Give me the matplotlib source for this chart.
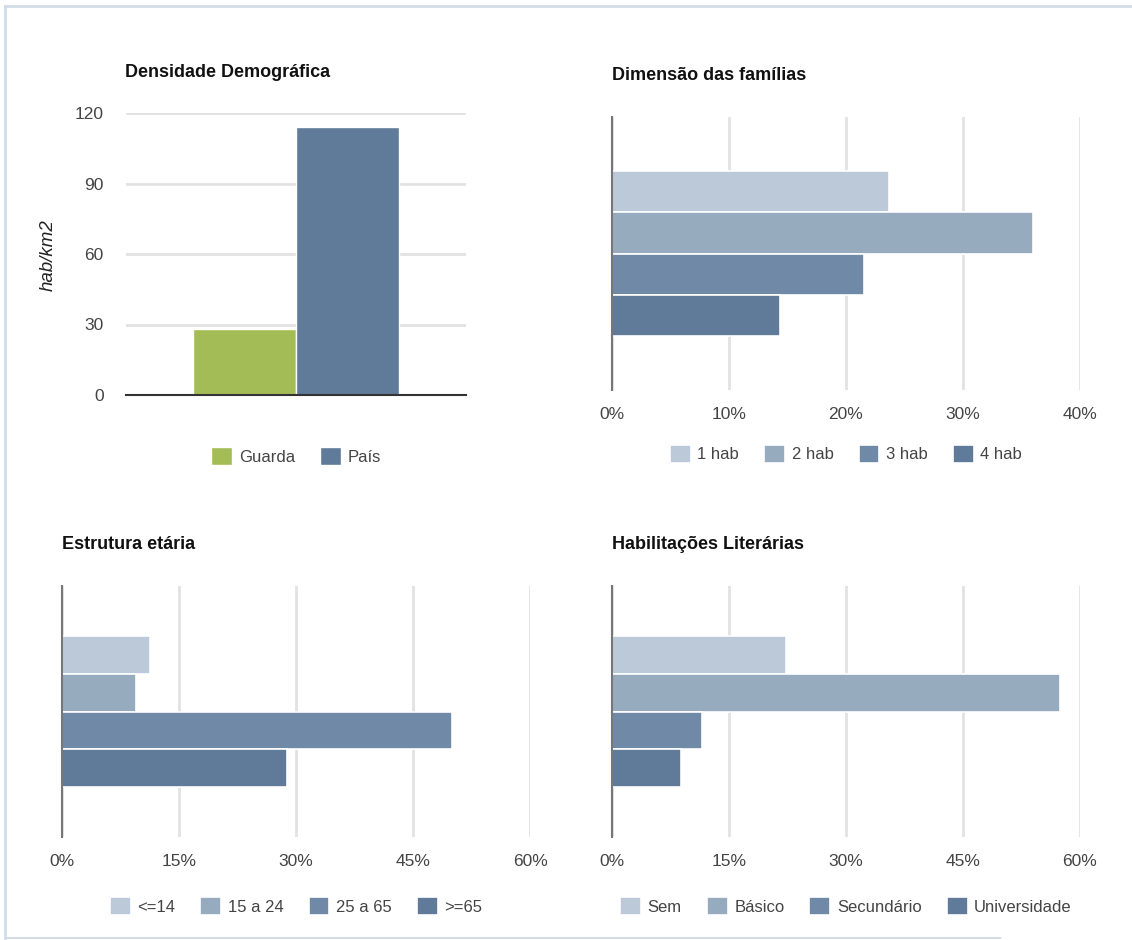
import matplotlib.pyplot as plt
from matplotlib.lines import Line2D
from matplotlib.ticker import FuncFormatter

plt.rcParams['font.family'] = ['Liberation Sans Narrow', 'Liberation Sans', 'DejaVu Sans']

# densidade demografica
dens_labels = ['Guarda', 'País']
dens_values = [28.2, 114.0]

# dimensao das familias (%)
fam_labels = ['1 hab', '2 hab', '3 hab', '4 hab']
fam_values = [23.7, 36.0, 21.5, 14.4]

# estrutura etaria (%)
idade_labels = ['<=14', '15 a 24', '25 a 65', '>=65']
idade_values = [11.3, 9.5, 50.0, 28.8]

# habilitacoes literarias (%)
hab_labels = ['Sem', 'Básico', 'Secundário', 'Universidade']
hab_values = [22.3, 57.4, 11.5, 8.8]

blues = ['#bcc9d8', '#97abbf', '#6f89a6', '#5f7b99']
green = '#a3bc55'
tick_col = '#444444'
grid_col = '#e2e2e2'

W, H = 1132, 940
fig = plt.figure(figsize=(W / 100, H / 100), dpi=100)


def fbox(x0, y0, x1, y1):
    # pixel box (top-left origin) -> figure fraction rect
    return [x0 / W, 1 - y1 / H, (x1 - x0) / W, (y1 - y0) / H]


def title(x, y, s):
    fig.text(x / W, 1 - y / H, s, fontsize=13, fontweight='bold',
             color='#111111', ha='left', va='baseline')


def legend(ax, off, ncol=4):
    return ax.legend(loc='center', bbox_to_anchor=(0.5, off), ncol=ncol,
                     frameon=False, fontsize=12, handlelength=1.25,
                     handleheight=1.25, handletextpad=0.4, columnspacing=1.5,
                     labelcolor=tick_col)


def hbars(ax, labels, values, xmax, step, off):
    for i, (lab, v) in enumerate(zip(labels, values)):
        ax.barh(i, v, height=1.0, color=blues[i], edgecolor='white',
                linewidth=1.2, label=lab, zorder=3)
    ax.set_ylim(4.82, -1.82)
    ax.set_xlim(0, xmax)
    ax.set_xticks(range(0, xmax + 1, step))
    ax.xaxis.set_major_formatter(FuncFormatter(lambda v, p: '%d%%' % v))
    ax.set_yticks([])
    ax.grid(axis='x', color=grid_col, linewidth=2, zorder=0)
    for s in ['top', 'right', 'bottom']:
        ax.spines[s].set_visible(False)
    ax.spines['left'].set_color('#777777')
    ax.spines['left'].set_linewidth(1.5)
    ax.spines['left'].set_zorder(4)
    ax.tick_params(axis='x', length=0, pad=12, labelsize=12.5, colors=tick_col)
    legend(ax, off)


# grafico 1
ax1 = fig.add_axes(fbox(126, 113, 466, 395))
ax1.bar([-0.5], [dens_values[0]], width=1.0, color=green, edgecolor='white',
        linewidth=1.0, label=dens_labels[0], zorder=3)
ax1.bar([0.5], [dens_values[1]], width=1.0, color=blues[3], edgecolor='white',
        linewidth=1.0, label=dens_labels[1], zorder=3)
ax1.set_xlim(-1.65, 1.65)
ax1.set_ylim(0, 120)
ax1.set_yticks([0, 30, 60, 90, 120])
ax1.set_xticks([])
ax1.grid(axis='y', color=grid_col, linewidth=2, zorder=0)
for s in ['top', 'right', 'left']:
    ax1.spines[s].set_visible(False)
ax1.spines['bottom'].set_color('#333333')
ax1.spines['bottom'].set_linewidth(1.5)
ax1.spines['bottom'].set_zorder(4)
ax1.tick_params(axis='y', length=0, pad=16, labelsize=12.5, colors=tick_col)
legend(ax1, -0.216, ncol=2)
fig.text(48 / W, 1 - 255 / H, 'hab/km2', rotation=90, fontsize=13.5,
         style='italic', color='#222222', ha='center', va='center')
title(125, 77, 'Densidade Demográfica')

# grafico 2
ax2 = fig.add_axes(fbox(612, 117, 1080, 390))
hbars(ax2, fam_labels, fam_values, 40, 10, -0.234)
title(612, 80, 'Dimensão das famílias')

# grafico 3
ax3 = fig.add_axes(fbox(62, 586, 530, 837))
hbars(ax3, idade_labels, idade_values, 60, 15, -0.275)
title(62, 549, 'Estrutura etária')

# grafico 4
ax4 = fig.add_axes(fbox(612, 586, 1080, 837))
hbars(ax4, hab_labels, hab_values, 60, 15, -0.275)
title(612, 549, 'Habilitações Literárias')

# moldura exterior
frame = '#d3dce6'
fig.add_artist(Line2D([5 / W, 1], [1 - 6 / H, 1 - 6 / H], color=frame, lw=2))
fig.add_artist(Line2D([5 / W, 5 / W], [1 - 6 / H, 1 - 938 / H], color=frame, lw=2))
fig.add_artist(Line2D([5 / W, 1000 / W], [1 - 938 / H, 1 - 938 / H], color=frame, lw=1.5))

fig.savefig('out.png', dpi=100, facecolor='white')
